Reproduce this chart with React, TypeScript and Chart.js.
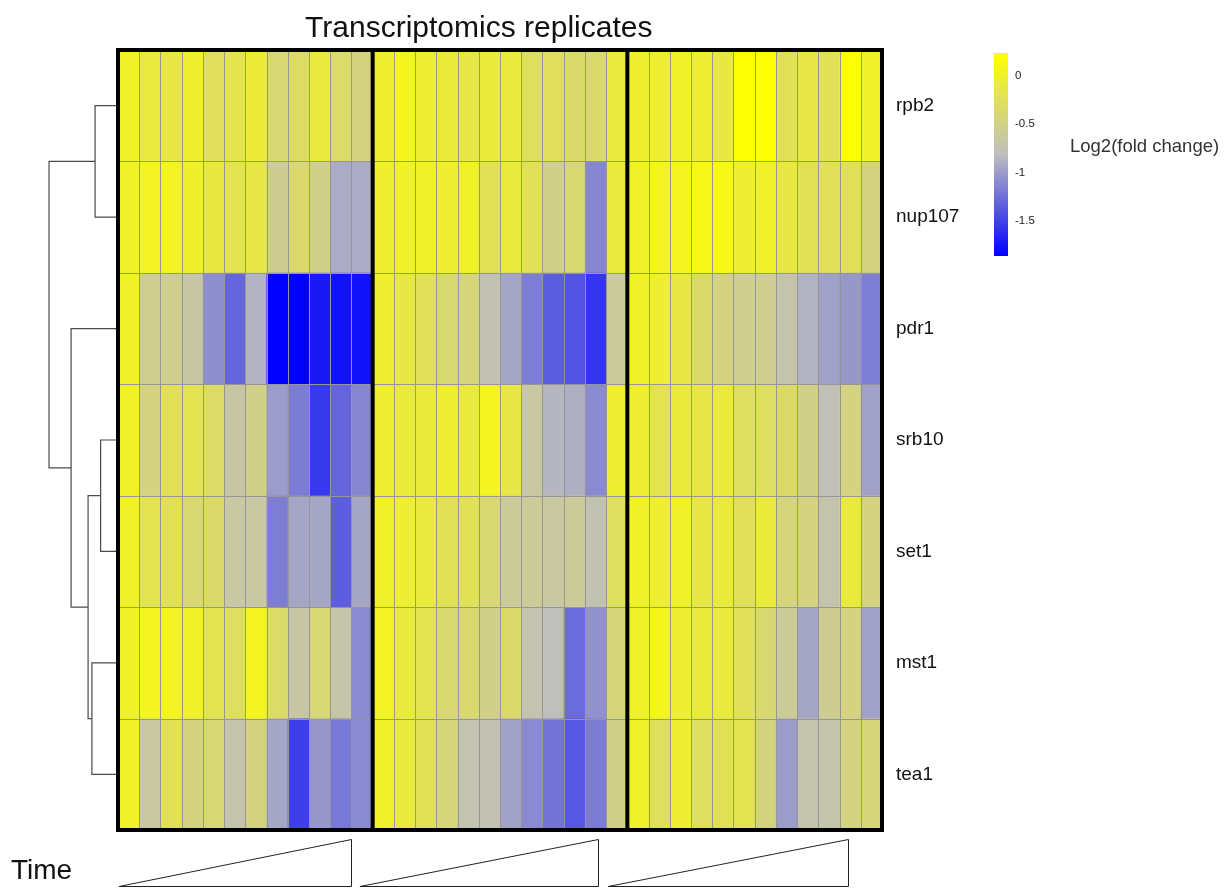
import React, { useEffect, useRef } from "react";
import { Chart, registerables } from "chart.js";

Chart.register(...registerables);

// Genes in dendrogram (row) order
const genes = ["rpb2", "nup107", "pdr1", "srb10", "set1", "mst1", "tea1"];
const replicateBlocks = 3;
const timePoints = 12;

// log2 fold change, 3 replicates x 12 time points per gene
const rpb2 = [
  0.0, -0.12, -0.15, -0.03, -0.28, -0.2, -0.08, -0.42, -0.33, -0.12, -0.35, -0.47,
  -0.03, 0.06, -0.05, -0.1, -0.16, -0.1, -0.12, -0.3, -0.28, -0.36, -0.36, -0.12,
  -0.03, -0.05, 0.0, -0.05, -0.15, 0.22, 0.22, -0.25, -0.17, -0.25, 0.22, 0.0,
];
const nup107 = [
  0.0, 0.03, 0.03, -0.02, -0.14, -0.22, -0.17, -0.58, -0.38, -0.52, -0.92, -0.92,
  -0.03, 0.0, 0.0, -0.05, 0.0, -0.25, -0.12, -0.26, -0.52, -0.4, -1.12, -0.12,
  0.0, 0.05, 0.05, 0.1, 0.1, -0.05, 0.0, -0.15, -0.25, -0.27, -0.27, -0.48,
];
const pdr1 = [
  0.0, -0.55, -0.55, -0.68, -1.08, -1.3, -0.88, -1.86, -1.86, -1.72, -1.77, -1.76,
  -0.05, -0.16, -0.27, -0.4, -0.44, -0.76, -0.95, -1.17, -1.35, -1.4, -1.57, -0.63,
  0.0, -0.05, -0.15, -0.36, -0.47, -0.56, -0.56, -0.72, -0.88, -0.98, -1.03, -1.17,
];
const srb10 = [
  0.0, -0.48, -0.25, -0.22, -0.35, -0.68, -0.52, -1.0, -1.18, -1.55, -1.3, -1.12,
  -0.05, -0.1, -0.1, -0.05, -0.1, 0.05, -0.16, -0.66, -0.86, -0.9, -1.1, -0.05,
  -0.05, -0.22, -0.1, -0.16, -0.1, -0.3, -0.3, -0.36, -0.52, -0.78, -0.48, -0.98,
];
const set1 = [
  0.0, -0.22, -0.25, -0.4, -0.36, -0.66, -0.66, -1.17, -0.95, -0.95, -1.35, -0.95,
  0.0, -0.05, -0.12, -0.25, -0.25, -0.4, -0.6, -0.6, -0.66, -0.6, -0.75, -0.3,
  0.0, -0.05, 0.0, -0.15, -0.1, -0.27, -0.1, -0.44, -0.48, -0.72, -0.1, -0.48,
];
const mst1 = [
  0.0, 0.05, 0.03, 0.0, -0.22, -0.3, 0.05, -0.35, -0.68, -0.42, -0.7, -1.1,
  0.03, -0.12, -0.22, -0.4, -0.38, -0.52, -0.36, -0.73, -0.8, -1.27, -1.06, -0.44,
  0.0, 0.06, -0.05, -0.1, -0.12, -0.27, -0.4, -0.6, -0.95, -0.58, -0.48, -0.98,
];
const tea1 = [
  0.0, -0.66, -0.25, -0.47, -0.42, -0.72, -0.47, -0.95, -1.52, -1.03, -1.2, -1.1,
  0.0, -0.12, -0.25, -0.44, -0.73, -0.76, -0.98, -1.1, -1.22, -1.38, -1.18, -0.52,
  0.0, -0.3, -0.05, -0.3, -0.25, -0.22, -0.47, -1.0, -0.72, -0.72, -0.47, -0.44,
];
const expression = [rpb2, nup107, pdr1, srb10, set1, mst1, tea1];

// Hierarchical clustering of genes (hclust-style: negative = leaf, positive = earlier merge)
const mergePairs: [number, number][] = [
  [-4, -5],
  [-1, -2],
  [-6, -7],
  [1, 3],
  [-3, 4],
  [2, 5],
];
const mergeHeights = [0.82, 1.08, 1.23, 1.41, 2.21, 3.25];

// Colour scale: blue -> grey -> yellow
const colourStopValues = [-1.86, -0.815, 0.23];
const colourStopRgb = [
  [0, 0, 255],
  [190, 190, 190],
  [255, 255, 0],
];
const legendTicks = [0, -0.5, -1, -1.5];
const legendTickLabels = ["0", "-0.5", "-1", "-1.5"];

// Time wedges under each replicate block (column units)
const wedgeStart = [0.05, 11.4, 23.1];
const wedgeEnd = [11.0, 22.6, 34.4];

const FONT = '"Liberation Sans", Arial, sans-serif';

function valueColour(v: number): string {
  const [a, m, b] = colourStopValues;
  let c0: number[], c1: number[], t: number;
  if (v <= m) {
    t = (Math.max(v, a) - a) / (m - a);
    c0 = colourStopRgb[0];
    c1 = colourStopRgb[1];
  } else {
    t = (Math.min(v, b) - m) / (b - m);
    c0 = colourStopRgb[1];
    c1 = colourStopRgb[2];
  }
  const ch = c0.map((x, i) => Math.round(x + (c1[i] - x) * t));
  return `rgb(${ch[0]},${ch[1]},${ch[2]})`;
}

function buildDendrogram() {
  const nodeY: number[] = [];
  const nodeH: number[] = [];
  const pos = (id: number) =>
    id < 0 ? { y: -id - 1 + 0.5, h: 0 } : { y: nodeY[id - 1], h: nodeH[id - 1] };
  return mergePairs.map(([l, r], i) => {
    const a = pos(l);
    const b = pos(r);
    const h = mergeHeights[i];
    nodeY.push((a.y + b.y) / 2);
    nodeH.push(h);
    return {
      data: [
        { x: -a.h, y: a.y },
        { x: -h, y: a.y },
        { x: -h, y: b.y },
        { x: -b.h, y: b.y },
      ],
      borderColor: "#4a4a4a",
      borderWidth: 1.2,
      pointRadius: 0,
      tension: 0,
      fill: false,
    };
  });
}

const heatmapPlugin = {
  id: "heatmapCells",
  afterDatasetsDraw(chart: any) {
    const { ctx } = chart;
    const x = chart.scales.x;
    const y = chart.scales.y;
    const nCols = replicateBlocks * timePoints;
    const top = y.getPixelForValue(0);
    const bottom = y.getPixelForValue(genes.length);
    const left = x.getPixelForValue(0);
    const right = x.getPixelForValue(nCols);
    ctx.save();
    expression.forEach((row, r) => {
      row.forEach((v, c) => {
        const x0 = x.getPixelForValue(c);
        const x1 = x.getPixelForValue(c + 1);
        const y0 = y.getPixelForValue(r);
        const y1 = y.getPixelForValue(r + 1);
        ctx.fillStyle = valueColour(v);
        ctx.fillRect(x0, y0, x1 - x0 + 0.5, y1 - y0 + 0.5);
      });
    });
    ctx.strokeStyle = "#969696";
    ctx.lineWidth = 1;
    ctx.beginPath();
    for (let c = 1; c < nCols; c++) {
      const px = Math.round(x.getPixelForValue(c)) + 0.5;
      ctx.moveTo(px, top);
      ctx.lineTo(px, bottom);
    }
    for (let r = 1; r < genes.length; r++) {
      const py = Math.round(y.getPixelForValue(r)) + 0.5;
      ctx.moveTo(left, py);
      ctx.lineTo(right, py);
    }
    ctx.stroke();
    ctx.strokeStyle = "#000";
    ctx.lineWidth = 4;
    ctx.beginPath();
    for (let b = 0; b <= replicateBlocks; b++) {
      const px = x.getPixelForValue(b * timePoints);
      ctx.moveTo(px, top - 2);
      ctx.lineTo(px, bottom + 2);
    }
    ctx.moveTo(left - 2, top);
    ctx.lineTo(right + 2, top);
    ctx.moveTo(left - 2, bottom);
    ctx.lineTo(right + 2, bottom);
    ctx.stroke();
    ctx.restore();
  },
  afterDraw(chart: any) {
    const { ctx } = chart;
    const x = chart.scales.x;
    const y = chart.scales.y;
    const bottom = y.getPixelForValue(genes.length);
    ctx.save();

    // Title
    ctx.fillStyle = "#111";
    ctx.font = `30px ${FONT}`;
    ctx.textAlign = "center";
    ctx.textBaseline = "alphabetic";
    ctx.fillText("Transcriptomics replicates", x.getPixelForValue(17), 37);

    // Colour legend
    const barL = 994;
    const barW = 14;
    const barTop = 53;
    const barBottom = 256;
    const vMin = colourStopValues[0];
    const vMax = colourStopValues[colourStopValues.length - 1];
    const grad = ctx.createLinearGradient(0, barBottom, 0, barTop);
    colourStopValues.forEach((v, i) => {
      grad.addColorStop((v - vMin) / (vMax - vMin), `rgb(${colourStopRgb[i].join(",")})`);
    });
    ctx.fillStyle = grad;
    ctx.fillRect(barL, barTop, barW, barBottom - barTop);
    ctx.fillStyle = "#222";
    ctx.font = `11.5px ${FONT}`;
    ctx.textAlign = "left";
    ctx.textBaseline = "middle";
    legendTicks.forEach((v, i) => {
      const py = barTop + ((vMax - v) / (vMax - vMin)) * (barBottom - barTop);
      ctx.fillText(legendTickLabels[i], barL + 21, py);
    });
    ctx.fillStyle = "#333";
    ctx.font = `18.5px ${FONT}`;
    ctx.fillText("Log2(fold change)", 1070, 147);

    // Time annotation
    ctx.fillStyle = "#111";
    ctx.font = `28px ${FONT}`;
    ctx.textAlign = "left";
    ctx.textBaseline = "alphabetic";
    ctx.fillText("Time", 11, 879);
    ctx.strokeStyle = "#222";
    ctx.lineWidth = 1;
    const wTop = bottom + 9.5;
    const wBottom = bottom + 56.5;
    wedgeStart.forEach((s, i) => {
      const xs = x.getPixelForValue(s);
      const xe = Math.round(x.getPixelForValue(wedgeEnd[i])) + 0.5;
      ctx.beginPath();
      ctx.moveTo(xs, wBottom);
      ctx.lineTo(xe, wTop);
      ctx.lineTo(xe, wBottom);
      ctx.closePath();
      ctx.stroke();
    });
    ctx.restore();
  },
};

export default function App() {
  const canvasRef = useRef<HTMLCanvasElement | null>(null);

  useEffect(() => {
    if (!canvasRef.current) return;
    const chart = new Chart(canvasRef.current, {
      type: "line",
      data: { datasets: buildDendrogram() as any },
      options: {
        animation: false,
        responsive: false,
        devicePixelRatio: 1,
        parsing: false as any,
        layout: { padding: { left: 41.6, right: 229, top: 50, bottom: 60 } },
        plugins: {
          legend: { display: false },
          tooltip: { enabled: false },
          title: { display: false },
        },
        scales: {
          x: {
            type: "linear",
            min: -3.6,
            max: replicateBlocks * timePoints,
            display: false,
          },
          y: {
            type: "linear",
            position: "right",
            min: 0,
            max: genes.length,
            reverse: true,
            grid: { display: false, drawTicks: false },
            border: { display: false },
            afterBuildTicks: (scale: any) => {
              scale.ticks = genes.map((_, i) => ({ value: i + 0.5 }));
            },
            afterFit: (scale: any) => {
              scale.width = 120;
            },
            ticks: {
              autoSkip: false,
              padding: 14,
              color: "#111",
              font: { family: FONT, size: 19 },
              callback: (_v: any, i: number) => genes[i],
            },
          },
        },
      },
      plugins: [heatmapPlugin],
    });
    return () => chart.destroy();
  }, []);

  return (
    <div style={{ position: "fixed", left: 0, top: 0, width: 1231, height: 890, background: "#fff" }}>
      <canvas ref={canvasRef} width={1231} height={890} style={{ width: 1231, height: 890 }} />
    </div>
  );
}
